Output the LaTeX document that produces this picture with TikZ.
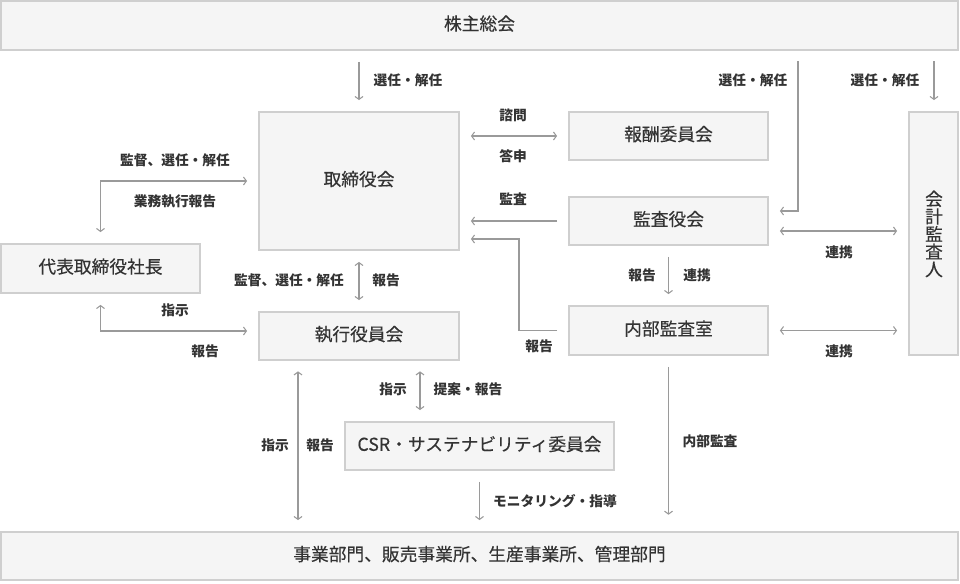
\documentclass[tikz,border=0pt]{standalone}
\usepackage{fontspec}
\setmainfont{Noto Sans CJK JP}
\newfontfamily\boxfont{Noto Sans CJK JP}[FakeBold=0.35]
\usetikzlibrary{arrows.meta,calc,fit}
\definecolor{boxfill}{HTML}{F5F5F5}
\definecolor{boxline}{HTML}{CFCFCF}
\definecolor{arrline}{HTML}{9A9A9A}
\definecolor{txt}{HTML}{333333}
\tikzset{
  box/.style={draw=boxline, fill=boxfill, line width=0.9pt, inner sep=0pt},
  boxtxt/.style={text=txt, inner sep=0pt, font=\boxfont\fontsize{13.3pt}{16pt}\selectfont, text height=0.86em, text depth=0.14em},
  arr/.style={draw=arrline, line width=0.9pt, >={Straight Barb[length=2.2pt,width=6pt,line width=0.8pt]}},
  gap/.style={shorten <=8.5pt, shorten >=8.5pt},
  lab/.style={text=txt, font=\fontsize{10.3pt}{12pt}\selectfont\bfseries, inner sep=0pt, text height=0.86em, text depth=0.14em}
}
\begin{document}
\begin{tikzpicture}[x=0.75pt,y=-0.75pt]
\useasboundingbox (0,0) rectangle (960,583);
% boxes
\node[box, fit={(1,1) (958,50)}] (kabu) {};
\node[box, fit={(259,112) (459,250)}] (tori) {};
\node[box, fit={(1,244) (200,293)}] (daihyo) {};
\node[box, fit={(259,312) (459,360)}] (shikko) {};
\node[box, fit={(345,422) (614,470)}] (csr) {};
\node[box, fit={(1,532) (958,580)}] (jigyo) {};
\node[box, fit={(569,112) (768,160)}] (hoshu) {};
\node[box, fit={(569,197) (768,245)}] (kansa) {};
\node[box, fit={(569,306) (768,355)}] (naibu) {};
\node[box, fit={(909,112) (958,355)}] (kaikei) {};
\node[boxtxt] (t1) at (kabu.center) {株主総会};
\node[boxtxt] (t2) at (tori.center) {取締役会};
\node[boxtxt] (t3) at (daihyo.center) {代表取締役社長};
\node[boxtxt] (t4) at (shikko.center) {執行役員会};
\node[boxtxt] (t5) at (csr.center) {CSR・サステナビリティ委員会};
\node[boxtxt] (t6) at (jigyo.center) {事業部門、販売事業所、生産事業所、管理部門};
\node[boxtxt] (t7) at (hoshu.center) {報酬委員会};
\node[boxtxt] (t8) at (kansa.center) {監査役会};
\node[boxtxt] (t9) at (naibu.center) {内部監査室};
\node[text=txt, font=\boxfont\fontsize{13.3pt}{13.2pt}\selectfont, align=center, inner sep=0pt] (t10) at (934,234) {会\\計\\監\\査\\人};
% connectors
\coordinate (c1) at (798,50);
\coordinate (c2) at (934,50);
\draw[arr,->,gap] (kabu.south -| tori.north) -- (tori.north);
\draw[arr,->,gap] (c1) |- ($(kansa.east)+(0,-10)$);
\draw[arr,->,gap] (c2) -- (c2 |- kaikei.north);
\draw[arr,<->,gap] (tori.east |- hoshu.west) -- (hoshu.west);
\draw[arr,->,gap] (kansa.west) -- (tori.east |- kansa.west);
\coordinate (n1) at (519,239);
\draw[arr,->,gap] (naibu.west) -| (n1) -- (tori.east |- n1);
\coordinate (k1) at ($(kansa.east)+(0,10)$);
\draw[arr,<->,gap] (k1) -- (kaikei.west |- k1);
\draw[arr,<->,gap] (naibu.east) -- (kaikei.west |- naibu.east);
\draw[arr,->,gap] (kansa.south) -- (naibu.north);
\draw[arr,<->,gap] (tori.west) -| (daihyo.north);
\draw[arr,<->,gap] (daihyo.south) |- ($(shikko.west)+(0,-5)$);
\draw[arr,<->,gap] (tori.south) -- (shikko.north);
\coordinate (s1) at (420,360);
\draw[arr,<->,gap] (s1) -- (s1 |- csr.north);
\coordinate (s2) at (298,360);
\draw[arr,<->,gap] (s2) -- (s2 |- jigyo.north);
\draw[arr,->,gap] (csr.south) -- (csr.south |- jigyo.north);
\draw[arr,->,shorten <=8.5pt,shorten >=12.5pt] (naibu.south) -- (naibu.south |- jigyo.north);
% labels
\node[lab] (l1) at (408,81) {選任・解任};
\node[lab] (l2) at (753,81) {選任・解任};
\node[lab] (l3) at (885,81) {選任・解任};
\node[lab] (l4) at (513,116) {諮問};
\node[lab] (l5) at (513,157) {答申};
\node[lab] (l6) at (513,200) {監査};
\node[lab] (l7) at (539,347) {報告};
\node[lab] (l8) at (839,253) {連携};
\node[lab] (l9) at (839,352) {連携};
\node[lab] (l10) at (642,276) {報告};
\node[lab] (l11) at (697,276) {連携};
\node[lab] (l12) at (175,161) {監督、選任・解任};
\node[lab] (l13) at (175,202) {業務執行報告};
\node[lab] (l14) at (175,311) {指示};
\node[lab] (l15) at (205,352) {報告};
\node[lab] (l16) at (289,281) {監督、選任・解任};
\node[lab] (l17) at (386,281) {報告};
\node[lab] (l18) at (393,390) {指示};
\node[lab] (l19) at (468,390) {提案・報告};
\node[lab] (l20) at (275,446) {指示};
\node[lab] (l21) at (320,446) {報告};
\node[lab] (l22) at (555,502) {モニタリング・指導};
\node[lab] (l23) at (710,442) {内部監査};
\end{tikzpicture}
\end{document}
